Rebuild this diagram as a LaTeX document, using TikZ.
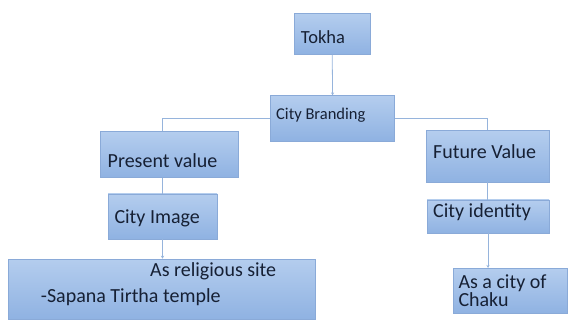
\documentclass[tikz,border=0pt]{standalone}
\usepackage{fontspec}
\setmainfont{Carlito}
\usepackage{xcolor}
\usetikzlibrary{positioning,arrows.meta,shapes}

\definecolor{boxtop}{RGB}{180,205,238}
\definecolor{boxbot}{RGB}{143,178,226}
\definecolor{boxline}{RGB}{138,170,216}
\definecolor{linkcol}{RGB}{150,180,220}
\definecolor{txtcol}{RGB}{22,32,52}

\begin{document}
\begin{tikzpicture}[
    x=1pt, y=-1pt,
    box/.style={draw=boxline, line width=0.6pt, top color=boxtop, bottom color=boxbot, inner sep=0pt},
    txt/.style={text=txtcol, inner sep=0pt, anchor=base west, font=\fontsize{20}{15}\selectfont},
    link/.style={draw=linkcol, line width=0.8pt},
    linkarrow/.style={link, -{Stealth[length=3pt,width=3pt]}}
]
\useasboundingbox (0,0) rectangle (568,320);

\node[box, minimum width=75.7pt, minimum height=41pt] (tokha) at (332.2,33.8) {};
\node[box, minimum width=123.8pt, minimum height=45.3pt] (brand) at (332.6,118.4) {};
\node[box, minimum width=137.8pt, minimum height=45.8pt] (present) at (169.6,154.6) {};
\node[box, minimum width=123pt, minimum height=51.3pt] (future) at (487.8,156.4) {};
\node[box, minimum width=109pt, minimum height=45pt] (image) at (162.5,216.5) {};
\node[box, minimum width=122pt, minimum height=33.2pt] (identity) at (488,216.5) {};
\node[box, minimum width=306.7pt, minimum height=60.5pt] (site) at (161.7,289.3) {};
\node[box, minimum width=114.7pt, minimum height=45.2pt] (chaku) at (510.4,290.9) {};

\node[txt, font=\fontsize{18.5}{15}\selectfont] (tokha-t) at (300.7,44) {Tokha};
\node[txt, font=\fontsize{16.5}{15}\selectfont] (brand-t) at (276,120) {City Branding};
\node[txt] (present-t) at (107.5,168) {Present value};
\node[txt] (future-t) at (433,158.5) {Future Value};
\node[txt] (image-t) at (114.3,224) {City Image};
\node[txt] (identity-t) at (433,218) {City identity};
\node[txt] (site-t) at (150,277) {As religious site};
\node[txt] (temple-t) at (40.7,303) {-Sapana Tirtha temple};
\node[txt, align=left] (chaku-t) at (458.3,306.7) {As a city of\\Chaku};

\draw[linkarrow] (tokha.south) -- (brand.north);
\draw[link] (brand.west) -| (present.north -| image.north);
\draw[link] (present.south -| image.north) -- (image.north);
\draw[linkarrow] (image.south) -- (image.south |- site.north);
\draw[link] (brand.east) -| (future.north);
\draw[link] (future.south) -- (future.south |- identity.north);
\draw[linkarrow] (identity.south) -- (identity.south |- chaku.north);
\end{tikzpicture}
\end{document}
